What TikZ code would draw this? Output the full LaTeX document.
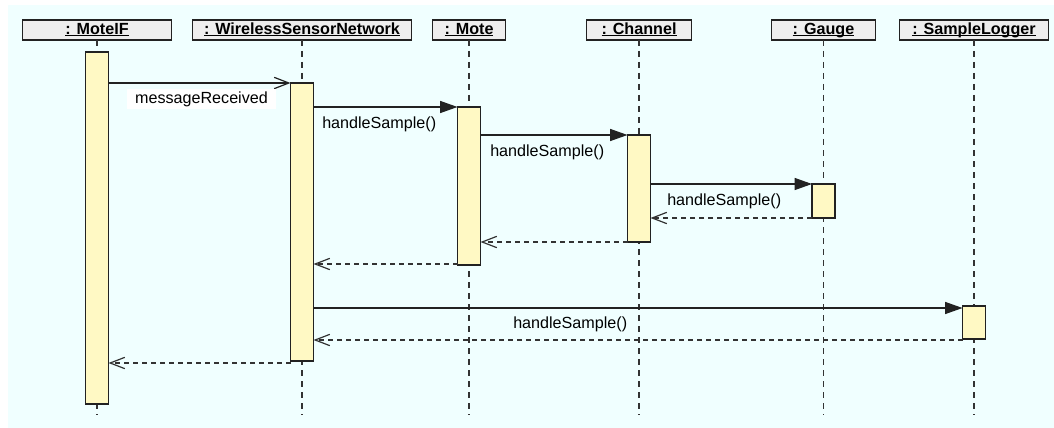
\documentclass[tikz,border=0pt]{standalone}
\usepackage{fontspec}
\setmainfont{Liberation Sans}
\usetikzlibrary{arrows.meta}
\definecolor{bgcyan}{RGB}{240,255,255}
\definecolor{headfill}{RGB}{238,238,238}
\definecolor{actfill}{RGB}{255,249,196}
\definecolor{linegray}{RGB}{51,51,51}
\definecolor{edge}{RGB}{34,34,34}
% underline placed just under the baseline, crossing descenders
\newcommand\objname[1]{\setbox0\hbox{#1}\rlap{\rule[-1.7pt]{\wd0}{0.75pt}}\box0}

\begin{document}
\begin{tikzpicture}[x=0.75pt,y=-0.75pt,
  head/.style={draw=edge, line width=1pt, fill=headfill, minimum height=15pt,
    inner sep=0pt, outer sep=0pt, text height=8.9pt, text depth=2.6pt,
    font=\fontsize{12.1}{14}\selectfont\bfseries},
  act/.style={draw=edge, line width=0.9pt, fill=actfill, minimum width=17.25pt,
    inner sep=0pt, outer sep=0pt, anchor=north},
  life/.style={draw=linegray, line width=0.9pt, dash pattern=on 4.5pt off 3.75pt},
  call/.style={draw=edge, line width=0.9pt, -{Triangle[length=13pt,width=9pt]}},
  async/.style={draw=edge, line width=0.9pt, -{Straight Barb[length=11pt,width=8.5pt]}},
  reply/.style={draw=linegray, line width=0.9pt, dash pattern=on 3.75pt off 3pt,
    -{Straight Barb[length=11pt,width=8.5pt]}},
  lbl/.style={inner sep=0pt, anchor=west, font=\fontsize{12.1}{14}\selectfont},
]
% canvas
\useasboundingbox (0,0) rectangle (1054,428);
\fill[bgcyan] (8,5) rectangle (1054,428);

% object headers
\node[head, minimum width=111.75pt] (hMoteIF)  at (97,30)    {\objname{: MoteIF}};
\node[head, minimum width=164.25pt] (hWSN)     at (302,30)   {\objname{: WirelessSensorNetwork}};
\node[head, minimum width=54.75pt]  (hMote)    at (469,30)   {\objname{: Mote}};
\node[head, minimum width=78.75pt]  (hChannel) at (639,30)   {\objname{: Channel}};
\node[head, minimum width=78pt]     (hGauge)   at (823.5,30) {\objname{: Gauge}};
\node[head, minimum width=111.75pt] (hLogger)  at (974,30)   {\objname{: SampleLogger}};

% lifelines
\coordinate (bottom) at (0,415);
\foreach \h in {hMoteIF,hWSN,hMote,hChannel,hGauge,hLogger}
  \draw[life] (\h.south) -- (\h.south |- bottom);

% activations
\node[act, minimum height=264pt]   (aMoteIF)  at (97,52)    {};
\node[act, minimum height=208.5pt] (aWSN)     at (302,83)   {};
\node[act, minimum height=118.5pt] (aMote)    at (469,107)  {};
\node[act, minimum height=80.25pt] (aChannel) at (639,135)  {};
\node[act, minimum height=25.5pt]  (aGauge)   at (823.5,184) {};
\node[act, minimum height=24.75pt] (aLogger)  at (974,306)  {};

% message rows
\coordinate (r1) at (0,83);
\coordinate (r2) at (0,107);
\coordinate (r3) at (0,135);
\coordinate (r4) at (0,184);
\coordinate (r5) at (0,218);
\coordinate (r6) at (0,242);
\coordinate (r7) at (0,264);
\coordinate (r8) at (0,308);
\coordinate (r9) at (0,340);
\coordinate (r10) at (0,363);

% messages
\draw[async] (aMoteIF.east |- r1) -- (aWSN.west |- r1);
\node[lbl, fill=white, inner xsep=6pt, inner ysep=1.5pt, anchor=center] (lMsg) at (201.5,99) {messageReceived};

\draw[call] (aWSN.east |- r2) -- (aMote.west |- r2);
\node[lbl] (l1) at (322,124) {handleSample()};

\draw[call] (aMote.east |- r3) -- (aChannel.west |- r3);
\node[lbl] (l2) at (490,152) {handleSample()};

\draw[call] (aChannel.east |- r4) -- (aGauge.west |- r4);
\node[lbl] (l3) at (667,201) {handleSample()};

\draw[reply] (aGauge.west |- r5) -- (aChannel.east |- r5);
\draw[reply] (aChannel.west |- r6) -- (aMote.east |- r6);
\draw[reply] (aMote.west |- r7) -- (aWSN.east |- r7);

\draw[call] (aWSN.east |- r8) -- (aLogger.west |- r8);
\node[lbl] (l4) at (513,324) {handleSample()};
\draw[reply] (aLogger.west |- r9) -- (aWSN.east |- r9);

\draw[reply] (aWSN.west |- r10) -- (aMoteIF.east |- r10);
\end{tikzpicture}
\end{document}
